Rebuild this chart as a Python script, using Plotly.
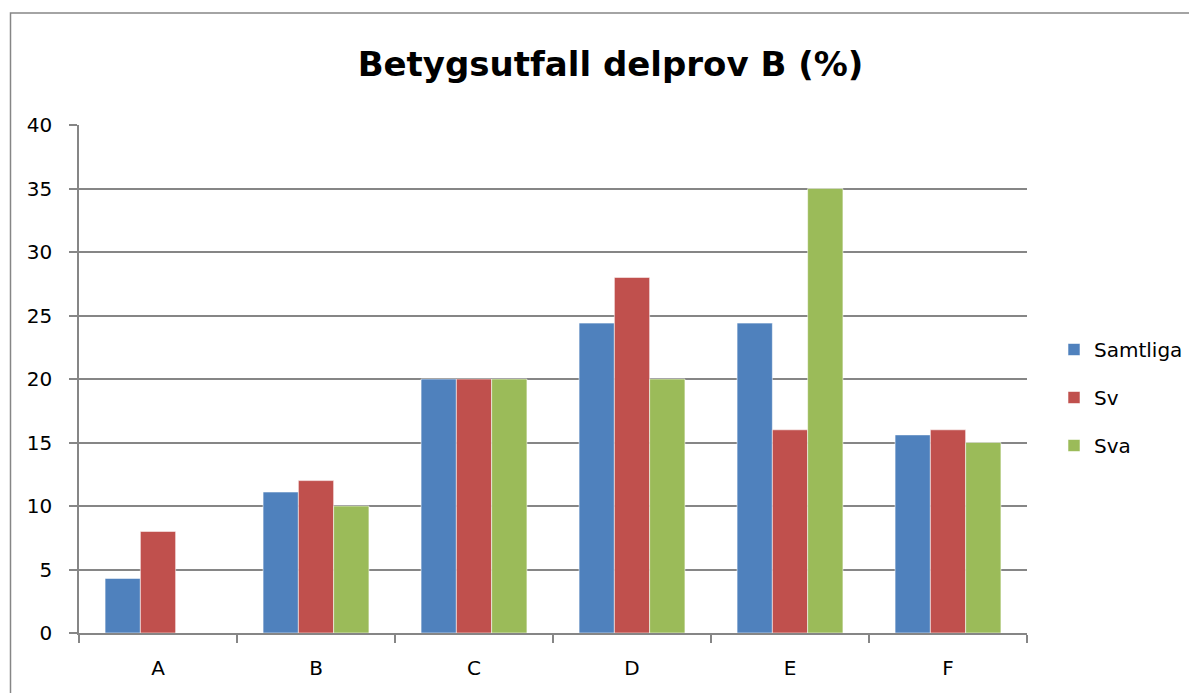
import plotly.graph_objects as go

categories = ["A", "B", "C", "D", "E", "F"]
samtliga = [4.3, 11.1, 20, 24.4, 24.4, 15.6]
sv = [8, 12, 20, 28, 16, 16]
sva = [0, 10, 20, 20, 35, 15]
series_names = ["Samtliga", "Sv", "Sva"]
colors = ["#4F81BD", "#C0504D", "#9BBB59"]
y_ticks = [0, 5, 10, 15, 20, 25, 30, 35, 40]

# the page body has an 8px margin, so the figure is drawn 8px in from the window edge
OFF = 8
W, H = 1197 - OFF, 693 - OFF
ml, mr, mt, mb = 71, 170, 117, 60
pw, ph = W - ml - mr, H - mt - mb

fig = go.Figure()
for name, vals, col in zip(series_names, [samtliga, sv, sva], colors):
    fig.add_trace(go.Bar(
        x=categories, y=vals, name=name, legendgroup=name,
        marker=dict(color=col, line=dict(color="rgba(255,255,255,0.55)", width=1)),
    ))

def px_x(p):
    return (p - OFF - ml) / pw

def px_y(p):
    return (H - mb - (p - OFF)) / ph

fig.add_shape(type="rect", xref="paper", yref="paper",
              x0=px_x(10.5), x1=px_x(1220), y0=px_y(13), y1=px_y(720),
              line=dict(color="#868686", width=1.5), fillcolor="rgba(0,0,0,0)", layer="below")

fig.update_layout(
    width=W, height=H,
    margin=dict(l=ml, r=mr, t=mt, b=mb, autoexpand=False),
    paper_bgcolor="white", plot_bgcolor="white",
    barmode="group", bargap=0.33, bargroupgap=0,
    font=dict(family="'DejaVu Sans', sans-serif", color="#000000", size=20),
    title=dict(text="<b>Betygsutfall delprov B (%)</b>", x=(610.5 - OFF) / W, xanchor="center",
               y=1 - (64 - OFF) / H, yanchor="middle",
               font=dict(size=34, family="'DejaVu Sans', sans-serif", color="#000")),
    legend=dict(x=px_x(1054), y=px_y(330), xanchor="left", yanchor="top",
                font=dict(size=20), tracegroupgap=19, itemwidth=30,
                bgcolor="rgba(0,0,0,0)"),
    xaxis=dict(showline=True, linecolor="#868686", linewidth=1.5,
               ticks="outside", tickson="boundaries", ticklen=8, tickcolor="#868686",
               tickwidth=1.5, showgrid=False, tickfont=dict(size=20),
               ticklabelstandoff=16),
    yaxis=dict(range=[0, 40], tickvals=y_ticks, showline=True, linecolor="#868686",
               linewidth=1.5, ticks="outside", ticklen=8, tickcolor="#868686", tickwidth=1.5,
               showgrid=True, gridcolor="#868686", gridwidth=1.5, zeroline=False,
               tickfont=dict(size=20), ticklabelstandoff=13),
)

fig.write_html("out.html")
